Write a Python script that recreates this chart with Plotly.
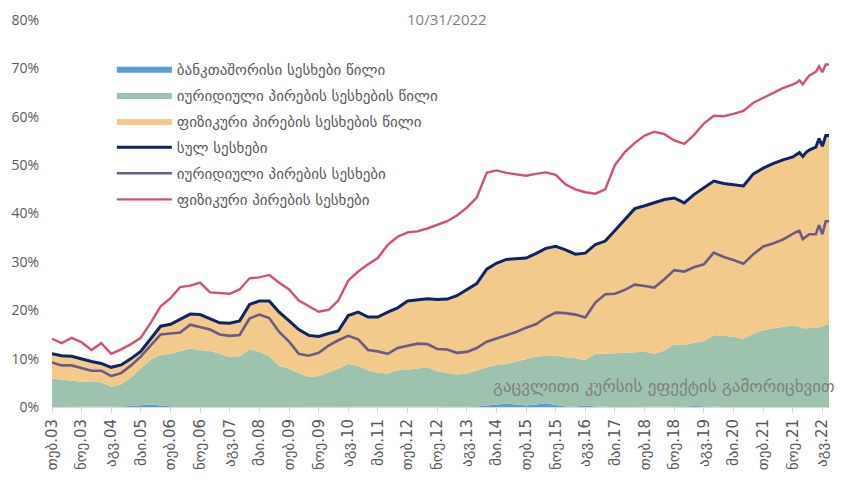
import pandas as pd
import plotly.graph_objects as go

# month offsets from Feb 2003 (quarterly, then monthly at the end)
month_offsets = list(range(0, 226, 3)) + list(range(226, 237))
dates = [pd.Timestamp("2003-02-01") + pd.DateOffset(months=m) for m in month_offsets]

interbank_share = [0, 0, 0, 0, 0, 0, 0, 0.1, 0.2, 0.3, 0.5, 0.3, 0.1, 0, 0, 0, 0, 0, 0, 0,
                   0, 0, 0, 0, 0, 0, 0, 0, 0, 0, 0, 0, 0, 0, 0, 0, 0, 0, 0, 0,
                   0, 0, 0, 0.1, 0.3, 0.5, 0.7, 0.5, 0.3, 0.5, 0.8, 0.4, 0.1, 0.1, 0.3, 0.1, 0, 0, 0, 0,
                   0, 0, 0, 0, 0.1, 0.2, 0.1, 0, 0, 0, 0, 0, 0, 0, 0, 0,
                   0, 0, 0, 0, 0, 0, 0, 0, 0, 0, 0]
legal_share = [5.9, 5.7, 5.5, 5.2, 5.3, 5.1, 4.2, 4.6, 5.9, 7.7, 9.3, 10.5, 10.9, 11.5, 12.1, 11.8, 11.6, 11.0, 10.3, 10.5,
               12.0, 11.4, 10.5, 8.5, 7.9, 7.0, 6.2, 6.4, 7.1, 7.9, 8.9, 8.5, 7.6, 7.1, 6.9, 7.6, 7.7, 7.9, 8.2, 7.4,
               7.0, 6.7, 6.9, 7.5, 7.9, 8.2, 8.2, 8.9, 9.6, 9.9, 9.8, 10.2, 10.2, 10.0, 9.4, 10.9, 11.0, 11.1, 11.2, 11.3,
               11.4, 11.0, 11.7, 12.9, 12.7, 13.1, 13.5, 14.9, 14.7, 14.5, 14.1, 15.2, 15.9, 16.2, 16.5, 16.9,
               16.8, 16.5, 16.3, 16.3, 16.3, 16.3, 16.4, 16.5, 16.6, 17.0, 17.1]
individual_share = [5.1, 4.9, 5.0, 4.7, 4.1, 3.9, 4.0, 4.0, 3.9, 3.5, 4.2, 5.9, 6.1, 6.6, 7.1, 7.3, 6.6, 6.4, 7.0, 7.3,
                    9.2, 10.5, 11.4, 11.1, 9.9, 9.0, 8.6, 8.2, 8.1, 7.8, 10.0, 11.1, 11.0, 11.5, 12.7, 12.9, 14.2, 14.3, 14.2, 14.8,
                    15.3, 16.3, 17.4, 17.9, 20.3, 21.0, 21.6, 21.2, 20.9, 21.3, 22.2, 22.6, 22.2, 21.5, 22.1, 22.6, 23.3, 25.4, 27.6, 29.7,
                    30.2, 31.2, 31.2, 30.3, 29.4, 30.6, 31.7, 31.8, 31.5, 31.4, 31.6, 33.0, 33.5, 34.1, 34.6, 34.8,
                    35.3, 36.1, 35.5, 36.3, 36.8, 37.1, 37.3, 39.0, 37.3, 39.1, 39.0]
total_loans = [11.0, 10.6, 10.5, 9.9, 9.4, 9.0, 8.2, 8.7, 10.0, 11.5, 14.0, 16.7, 17.1, 18.1, 19.2, 19.1, 18.2, 17.4, 17.3, 17.8,
               21.2, 21.9, 21.9, 19.6, 17.8, 16.0, 14.8, 14.6, 15.2, 15.7, 18.9, 19.6, 18.6, 18.6, 19.6, 20.5, 21.9, 22.2, 22.4, 22.2,
               22.3, 23.0, 24.3, 25.5, 28.5, 29.7, 30.5, 30.6, 30.8, 31.7, 32.8, 33.2, 32.5, 31.6, 31.8, 33.6, 34.3, 36.5, 38.8, 41.0,
               41.6, 42.2, 42.9, 43.2, 42.2, 43.9, 45.3, 46.7, 46.2, 45.9, 45.7, 48.2, 49.4, 50.3, 51.1, 51.7,
               52.1, 52.6, 51.8, 52.6, 53.1, 53.4, 53.7, 55.5, 53.9, 56.1, 56.1]
legal_loans = [9.2, 8.6, 8.6, 8.0, 7.5, 7.5, 6.4, 7.0, 8.6, 10.4, 12.8, 15.0, 15.2, 15.4, 17.0, 16.5, 16.0, 15.0, 14.7, 14.9,
               18.3, 19.1, 18.4, 15.5, 13.5, 11.0, 10.6, 11.2, 12.7, 13.8, 14.7, 14.0, 11.8, 11.5, 11.0, 12.2, 12.6, 13.1, 13.0, 12.0,
               11.9, 11.2, 11.4, 12.2, 13.5, 14.2, 14.8, 15.5, 16.4, 17.1, 18.5, 19.5, 19.4, 19.1, 18.5, 21.6, 23.3, 23.4, 24.2, 25.3,
               25.0, 24.7, 26.4, 28.3, 28.0, 28.9, 29.5, 31.9, 31.0, 30.4, 29.6, 31.6, 33.2, 33.8, 34.6, 35.9,
               36.2, 36.4, 34.7, 35.2, 35.7, 35.7, 35.7, 37.6, 35.7, 38.4, 38.4]
individual_loans = [14.1, 13.2, 14.3, 13.4, 11.8, 13.2, 11.0, 11.9, 13.0, 14.3, 17.4, 20.8, 22.5, 24.8, 25.1, 25.7, 23.7, 23.5, 23.4, 24.3,
                    26.6, 26.8, 27.3, 25.7, 24.3, 22.0, 20.9, 19.7, 20.1, 22.0, 26.1, 28.0, 29.5, 30.8, 33.5, 35.2, 36.1, 36.3, 36.9, 37.6,
                    38.4, 39.6, 41.2, 43.3, 48.4, 48.9, 48.4, 48.1, 47.8, 48.2, 48.5, 48.0, 46.0, 45.0, 44.4, 44.1, 45.0, 50.0, 52.7, 54.6,
                    56.1, 56.9, 56.4, 55.1, 54.4, 56.2, 58.6, 60.2, 60.1, 60.6, 61.2, 62.9, 63.9, 64.9, 65.9, 66.7,
                    67.0, 67.5, 66.7, 67.6, 68.5, 68.9, 69.3, 70.4, 69.2, 70.8, 70.8]

tick_offsets = list(range(0, 235, 9))
tick_labels = ["თებ.03", "ნოე.03", "აგვ.04", "მაი.05", "თებ.06", "ნოე.06", "აგვ.07", "მაი.08", "თებ.09",
               "ნოე.09", "აგვ.10", "მაი.11", "თებ.12", "ნოე.12", "აგვ.13", "მაი.14", "თებ.15", "ნოე.15",
               "აგვ.16", "მაი.17", "თებ.18", "ნოე.18", "აგვ.19", "მაი.20", "თებ.21", "ნოე.21", "აგვ.22"]
tick_dates = [pd.Timestamp("2003-02-01") + pd.DateOffset(months=m) for m in tick_offsets]

names = ["ბანკთაშორისი სესხები წილი", "იურიდიული პირების სესხების წილი", "ფიზიკური პირების სესხების წილი",
         "სულ სესხები", "იურიდიული პირების სესხები", "ფიზიკური პირების სესხები"]

GEO = "DejaVu Sans"
fig = go.Figure()
area_series = [interbank_share, legal_share, individual_share]
area_colors = ["#5B9BD5", "#9DC3AF", "#F2CA8C"]
for i, (vals, col) in enumerate(zip(area_series, area_colors)):
    fig.add_trace(go.Scatter(x=dates, y=vals, name=names[i], stackgroup="one", mode="lines",
                             line=dict(width=0, color=col), fillcolor=col, legendrank=i + 1,
                             legendgroup=f"g{i}"))
line_series = [total_loans, legal_loans, individual_loans]
line_colors = ["#0D2566", "#6C5A84", "#D5506E"]
line_widths = [3, 2.6, 2.4]
for j, (vals, col, w) in enumerate(zip(line_series, line_colors, line_widths)):
    fig.add_trace(go.Scatter(x=dates, y=vals, name=names[3 + j], mode="lines",
                             line=dict(width=w, color=col), legendrank=4 + j,
                             legendgroup=f"g{3 + j}"))

PL, PR, PT, PB = 52, 831, 15, 407   # plot area in pixels
fig.update_layout(
    width=841, height=483,
    margin=dict(l=PL, r=841 - PR, t=PT, b=483 - PB),
    paper_bgcolor="white", plot_bgcolor="white",
    showlegend=True,
    legend=dict(x=(112 - PL) / (PR - PL), y=(PB - 48) / (PB - PT), xanchor="left", yanchor="top",
                traceorder="grouped",
                font=dict(family=GEO, size=15, color="#595959"), bgcolor="rgba(0,0,0,0)",
                itemwidth=55, tracegroupgap=3.6),
    annotations=[
        dict(text="10/31/2022", x=(448 - PL) / (PR - PL), y=(PB - 14) / (PB - PT), xref="paper", yref="paper",
             xanchor="center", yanchor="middle", showarrow=False,
             font=dict(family="Open Sans", size=15, color="#7F7F7F")),
        dict(text="გაცვლითი კურსის ეფექტის გამორიცხვით", x=(839 - PL) / (PR - PL), y=(PB - 386) / (PB - PT),
             xref="paper", yref="paper", xanchor="right", yanchor="middle", showarrow=False,
             font=dict(family=GEO, size=17, color="#7F7F7F")),
    ],
)

fig.update_xaxes(type="date", range=[pd.Timestamp("2003-02-01"), pd.Timestamp("2022-10-01")],
                 tickmode="array", tickvals=tick_dates, ticktext=tick_labels, tickangle=-90,
                 ticks="outside", ticklen=5, tickcolor="#D9D9D9", showline=True, linecolor="#D9D9D9",
                 linewidth=1, showgrid=False, zeroline=False,
                 tickfont=dict(family=GEO, size=15, color="#595959"))
fig.update_yaxes(range=[0, 80], dtick=10, ticksuffix="%", showgrid=False, zeroline=False,
                 showline=False, ticklabelstandoff=12,
                 tickfont=dict(family="Open Sans", size=14, color="#595959"))

fig.write_html("out.html", config={"displayModeBar": False},
               post_script="document.body.style.margin='0px';")
